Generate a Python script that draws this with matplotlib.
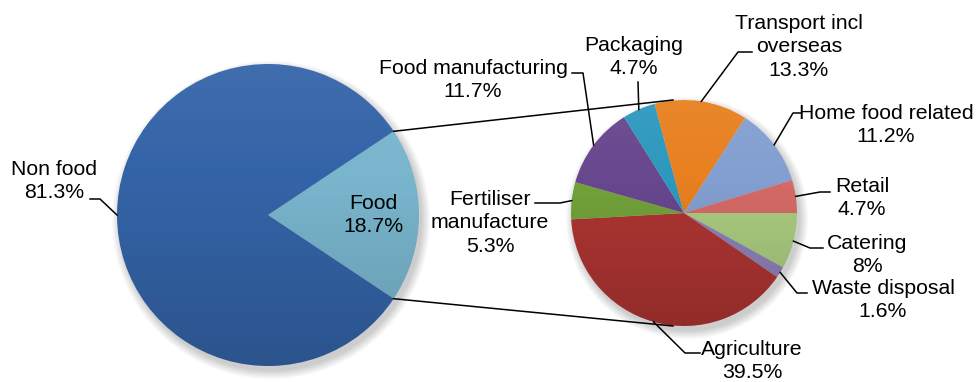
import numpy as np
import matplotlib.pyplot as plt
from matplotlib.patches import Circle

plt.rcParams['font.family'] = ['Liberation Sans', 'DejaVu Sans']

# main split
main_labels = ['Food', 'Non food']
main_values = [18.7, 81.3]
main_colors = ['#79B6CE', '#3464A8']

# breakdown of the food share, clockwise from 3 o'clock
sub_labels = ['Catering', 'Waste disposal', 'Agriculture', 'Fertiliser\nmanufacture',
              'Food manufacturing', 'Packaging', 'Transport incl\noverseas',
              'Home food related', 'Retail']
sub_values = [8, 1.6, 39.5, 5.3, 11.7, 4.7, 13.3, 11.2, 4.7]
sub_colors = ['#ABCC80', '#8E82B8', '#AE3532', '#72A23A', '#67478E',
              '#2D98BE', '#E8801F', '#839FD1', '#D56A67']

W, H = 977, 382
fig = plt.figure(figsize=(W / 100, H / 100), dpi=100)
ax = fig.add_axes([0, 0, 1, 1])

# pixel units, y grows downward
c1, r1 = (268, 215), 151
c2, r2 = (684, 213), 113


def shadow(c, r):
    for k in range(10):
        ax.add_patch(Circle((c[0] + 3, c[1] + 5), r + k * 0.9, color='k',
                            alpha=0.018, lw=0, zorder=0))


def shade(c, r):
    # light at top, darker at bottom
    n = 256
    t = np.linspace(0, 1, n)
    img = np.zeros((n, 1, 4))
    img[:, 0, :3] = np.where(t[:, None] < 0.35, 1.0, 0.0)
    img[:, 0, 3] = np.where(t < 0.35, 0.06 * (0.35 - t) / 0.35, 0.16 * (t - 0.35) / 0.65)
    clip = Circle(c, r, fc='none', ec='none')
    ax.add_patch(clip)
    im = ax.imshow(img, extent=(c[0] - r, c[0] + r, c[1] + r, c[1] - r),
                   origin='upper', aspect='auto', interpolation='bilinear', zorder=3)
    im.set_clip_path(clip)


shadow(c1, r1)
shadow(c2, r2)

food_angle = main_values[0] / sum(main_values) * 360
w1, _ = ax.pie(main_values, colors=main_colors, center=c1, radius=r1,
               startangle=-food_angle / 2, counterclock=True,
               wedgeprops=dict(linewidth=0, zorder=2))
w2, _ = ax.pie(sub_values, colors=sub_colors, center=c2, radius=r2,
               startangle=0, counterclock=True,
               wedgeprops=dict(linewidth=0, zorder=2))
shade(c1, r1)
shade(c2, r2)


def edge_point(w, c, r):
    a = np.deg2rad((w.theta1 + w.theta2) / 2)
    return c[0] + r * np.cos(a), c[1] + r * np.sin(a)


fs = 15.3
ls = 1.32
lk = dict(color='black', lw=1.1, zorder=4)

# lines joining the food slice to the breakdown pie
for ang, side in [(w1[0].theta1, -1), (w1[0].theta2, 1)]:
    a = np.deg2rad(ang)
    x0, y0 = c1[0] + r1 * np.cos(a), c1[1] + r1 * np.sin(a)
    ax.plot([x0, c2[0] - 11], [y0, c2[1] + side * r2], **lk)

# labels on the main pie
fx, fy = edge_point(w1[0], c1, r1 * 0.7)
ax.text(fx, fy, f'{main_labels[0]}\n{main_values[0]:g}%', ha='center', va='center',
        fontsize=fs, linespacing=ls, zorder=5)
ax.text(54, 181, f'{main_labels[1]}\n{main_values[1]:g}%', ha='center', va='center',
        fontsize=fs, linespacing=ls, zorder=5)
nx, ny = edge_point(w1[1], c1, r1)
ax.plot([90, 100, nx], [199, 199, ny], **lk)

# breakdown labels: text centre, leader start, leader knee
sub_layout = {
    'Catering': ((867, 255), (823, 248), (810, 248)),
    'Waste disposal': ((883, 300), (807, 293), (797, 293)),
    'Agriculture': ((752, 361), (700, 353), (685, 353)),
    'Fertiliser\nmanufacture': ((490, 223), (535, 203), (560, 203)),
    'Food manufacturing': ((473, 80), (572, 73), (583, 73)),
    'Packaging': ((634, 57), (638, 82), (638, 82)),
    'Transport incl\noverseas': ((799, 47), (752, 52), (738, 52)),
    'Home food related': ((886, 125), (801, 113), (793, 113)),
    'Retail': ((862, 198), (830, 192), (820, 192)),
}

for w, lab, val in zip(w2, sub_labels, sub_values):
    (tx, ty), (sx, sy), (kx, ky) = sub_layout[lab]
    ax.text(tx, ty, f'{lab}\n{val:g}%', ha='center', va='center',
            fontsize=fs, linespacing=ls, zorder=5)
    ex, ey = edge_point(w, c2, r2)
    ax.plot([sx, kx, ex], [sy, ky, ey], **lk)

ax.set_xlim(0, W)
ax.set_ylim(H, 0)
ax.set_aspect('equal')
ax.axis('off')

fig.savefig('out.png', dpi=100, facecolor='white')
